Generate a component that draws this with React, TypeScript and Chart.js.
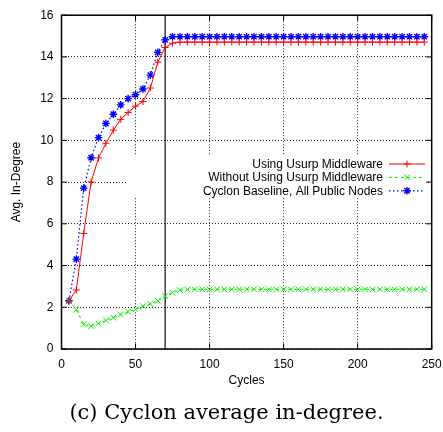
import React, { useEffect, useRef } from "react";
import { Chart, registerables } from "chart.js";

Chart.register(...registerables);

const cycles = [
  5, 10, 15, 20, 25, 30, 35, 40, 45, 50,
  55, 60, 65, 70, 75, 80, 85, 90, 95, 100,
  105, 110, 115, 120, 125, 130, 135, 140, 145, 150,
  155, 160, 165, 170, 175, 180, 185, 190, 195, 200,
  205, 210, 215, 220, 225, 230, 235, 240, 245,
];

const usingUsurp = [
  2.31, 2.83, 5.54, 8.01, 9.16, 9.86, 10.49, 11.01, 11.34, 11.64,
  11.86, 12.51, 13.75, 14.45, 14.66, 14.71, 14.71, 14.71, 14.71, 14.71,
  14.71, 14.71, 14.71, 14.71, 14.71, 14.71, 14.71, 14.71, 14.71, 14.71,
  14.71, 14.71, 14.71, 14.71, 14.71, 14.71, 14.71, 14.71, 14.71, 14.71,
  14.71, 14.71, 14.71, 14.71, 14.71, 14.71, 14.71, 14.71, 14.71,
];

const withoutUsurp = [
  2.31, 1.89, 1.18, 1.1, 1.21, 1.37, 1.5, 1.65, 1.79, 1.9,
  2.06, 2.16, 2.31, 2.53, 2.7, 2.82, 2.85, 2.86, 2.86, 2.86,
  2.86, 2.86, 2.86, 2.86, 2.86, 2.86, 2.86, 2.86, 2.86, 2.86,
  2.86, 2.86, 2.86, 2.86, 2.86, 2.86, 2.86, 2.86, 2.86, 2.86,
  2.86, 2.86, 2.86, 2.86, 2.86, 2.86, 2.86, 2.86, 2.86,
];

const cyclonBaseline = [
  2.31, 4.31, 7.71, 9.17, 10.13, 10.81, 11.25, 11.7, 12.0, 12.19,
  12.46, 13.13, 14.22, 14.82, 14.97, 14.97, 14.97, 14.97, 14.97, 14.97,
  14.97, 14.97, 14.97, 14.97, 14.97, 14.97, 14.97, 14.97, 14.97, 14.97,
  14.97, 14.97, 14.97, 14.97, 14.97, 14.97, 14.97, 14.97, 14.97, 14.97,
  14.97, 14.97, 14.97, 14.97, 14.97, 14.97, 14.97, 14.97, 14.97,
];

const seriesNames = [
  "Using Usurp Middleware",
  "Without Using Usurp Middleware",
  "Cyclon Baseline, All Public Nodes",
];

const markerCycle = 70;
const caption = "(c) Cyclon average in-degree.";

const SANS = "'Liberation Sans', Arial, Helvetica, sans-serif";

const zip = (ys: number[]) => cycles.map((x, i) => ({ x, y: ys[i] }));

export default function App() {
  const ref = useRef<HTMLCanvasElement | null>(null);

  useEffect(() => {
    if (!ref.current) return;

    const decorations = {
      id: "decorations",
      beforeDatasetsDraw(chart: any) {
        const { ctx, chartArea } = chart;
        const xs = chart.scales.x;
        ctx.save();
        // opaque key box
        ctx.fillStyle = "#ffffff";
        ctx.fillRect(127, 155, 301, 42);
        // vertical marker line
        const px = xs.getPixelForValue(markerCycle);
        ctx.strokeStyle = "#222";
        ctx.lineWidth = 1.3;
        ctx.beginPath();
        ctx.moveTo(px, chartArea.top);
        ctx.lineTo(px, chartArea.bottom);
        ctx.stroke();
        ctx.restore();
      },
      afterDatasetsDraw(chart: any) {
        const { ctx, chartArea } = chart;
        const xs = chart.scales.x;
        const ys = chart.scales.y;
        ctx.save();
        ctx.strokeStyle = "#000";
        ctx.lineWidth = 1.5;
        ctx.setLineDash([]);
        ctx.strokeRect(
          chartArea.left,
          chartArea.top,
          chartArea.right - chartArea.left,
          chartArea.bottom - chartArea.top
        );
        // inward ticks
        ctx.lineWidth = 1;
        const tl = 5.5;
        ctx.beginPath();
        xs.ticks.forEach((t: any) => {
          const p = xs.getPixelForValue(t.value);
          ctx.moveTo(p, chartArea.bottom);
          ctx.lineTo(p, chartArea.bottom - tl);
          ctx.moveTo(p, chartArea.top);
          ctx.lineTo(p, chartArea.top + tl);
        });
        ys.ticks.forEach((t: any) => {
          const p = ys.getPixelForValue(t.value);
          ctx.moveTo(chartArea.left, p);
          ctx.lineTo(chartArea.left + tl, p);
          ctx.moveTo(chartArea.right, p);
          ctx.lineTo(chartArea.right - tl, p);
        });
        ctx.stroke();

        // key
        ctx.font = "12px " + SANS;
        ctx.fillStyle = "#000";
        ctx.textAlign = "right";
        ctx.textBaseline = "middle";
        const rows = [164, 177.4, 190.8];
        chart.data.datasets.forEach((ds: any, i: number) => {
          const y = rows[i];
          ctx.fillText(seriesNames[i], 383, y + 0.5);
          ctx.strokeStyle = ds.borderColor;
          ctx.lineWidth = ds.borderWidth;
          ctx.setLineDash(ds.borderDash || []);
          ctx.beginPath();
          ctx.moveTo(389, y);
          ctx.lineTo(425, y);
          ctx.stroke();
          ctx.setLineDash([]);
          ctx.lineWidth = ds.pointBorderWidth;
          const r = ds.pointRadius;
          const cx = 407;
          ctx.beginPath();
          const plus = () => {
            ctx.moveTo(cx - r, y);
            ctx.lineTo(cx + r, y);
            ctx.moveTo(cx, y - r);
            ctx.lineTo(cx, y + r);
          };
          const ex = () => {
            const d = r * Math.SQRT1_2;
            ctx.moveTo(cx - d, y - d);
            ctx.lineTo(cx + d, y + d);
            ctx.moveTo(cx - d, y + d);
            ctx.lineTo(cx + d, y - d);
          };
          if (ds.pointStyle === "cross") plus();
          if (ds.pointStyle === "crossRot") ex();
          if (ds.pointStyle === "star") {
            plus();
            ex();
          }
          ctx.stroke();
        });

        // caption
        ctx.font = "21px 'DejaVu Serif', serif";
        ctx.textAlign = "center";
        ctx.textBaseline = "middle";
        ctx.fillText(caption, 226.5, 414);
        ctx.restore();
      },
    };

    const chart = new Chart(ref.current, {
      type: "line",
      data: {
        datasets: [
          {
            label: seriesNames[0],
            data: zip(usingUsurp),
            borderColor: "#ff0000",
            backgroundColor: "#ff0000",
            borderWidth: 1,
            pointStyle: "cross",
            pointRadius: 3.5,
            pointBorderWidth: 1,
            pointBorderColor: "#ff0000",
            tension: 0,
          },
          {
            label: seriesNames[1],
            data: zip(withoutUsurp),
            borderColor: "#00ee00",
            backgroundColor: "#00ee00",
            borderWidth: 1,
            borderDash: [3, 3],
            pointStyle: "crossRot",
            pointRadius: 4,
            pointBorderWidth: 1,
            pointBorderColor: "#00ee00",
            tension: 0,
          },
          {
            label: seriesNames[2],
            data: zip(cyclonBaseline),
            borderColor: "#0000ff",
            backgroundColor: "#0000ff",
            borderWidth: 1.2,
            borderDash: [1.5, 2.5],
            pointStyle: "star",
            pointRadius: 3.8,
            pointBorderWidth: 1.4,
            pointBorderColor: "#0000ff",
            tension: 0,
          },
        ],
      },
      options: {
        responsive: false,
        animation: false,
        layout: { padding: { left: 0, right: 20.3, top: 10, bottom: 0 } },
        plugins: {
          legend: { display: false },
          tooltip: { enabled: false },
          title: { display: false },
        },
        scales: {
          x: {
            type: "linear",
            min: 0,
            max: 250,
            afterFit: (s: any) => {
              s.height = 83;
            },
            ticks: {
              stepSize: 50,
              padding: 8,
              color: "#000",
              font: { family: SANS, size: 12 },
              maxRotation: 0,
            },
            grid: {
              color: "rgba(0,0,0,0.85)",
              lineWidth: 1,
              drawTicks: false,
            },
            border: { display: false, dash: [1, 2] },
            title: {
              display: true,
              text: "Cycles",
              color: "#000",
              font: { family: SANS, size: 12 },
              padding: { top: 0, bottom: 43.8 },
            },
          },
          y: {
            type: "linear",
            min: 0,
            max: 16,
            afterFit: (s: any) => {
              s.width = 61.5;
            },
            ticks: {
              stepSize: 2,
              padding: 8,
              color: "#000",
              font: { family: SANS, size: 12 },
            },
            grid: {
              color: "rgba(0,0,0,0.85)",
              lineWidth: 1,
              drawTicks: false,
            },
            border: { display: false, dash: [1, 2] },
            title: {
              display: true,
              text: "Avg. In-Degree",
              color: "#000",
              font: { family: SANS, size: 12 },
              padding: { top: 9.3, bottom: 0 },
            },
          },
        },
      },
      plugins: [decorations],
    } as any);

    return () => chart.destroy();
  }, []);

  return (
    <div
      style={{
        position: "fixed",
        left: 0,
        top: 0,
        width: 452,
        height: 432,
        background: "#fff",
      }}
    >
      <canvas ref={ref} width={452} height={432} />
    </div>
  );
}
